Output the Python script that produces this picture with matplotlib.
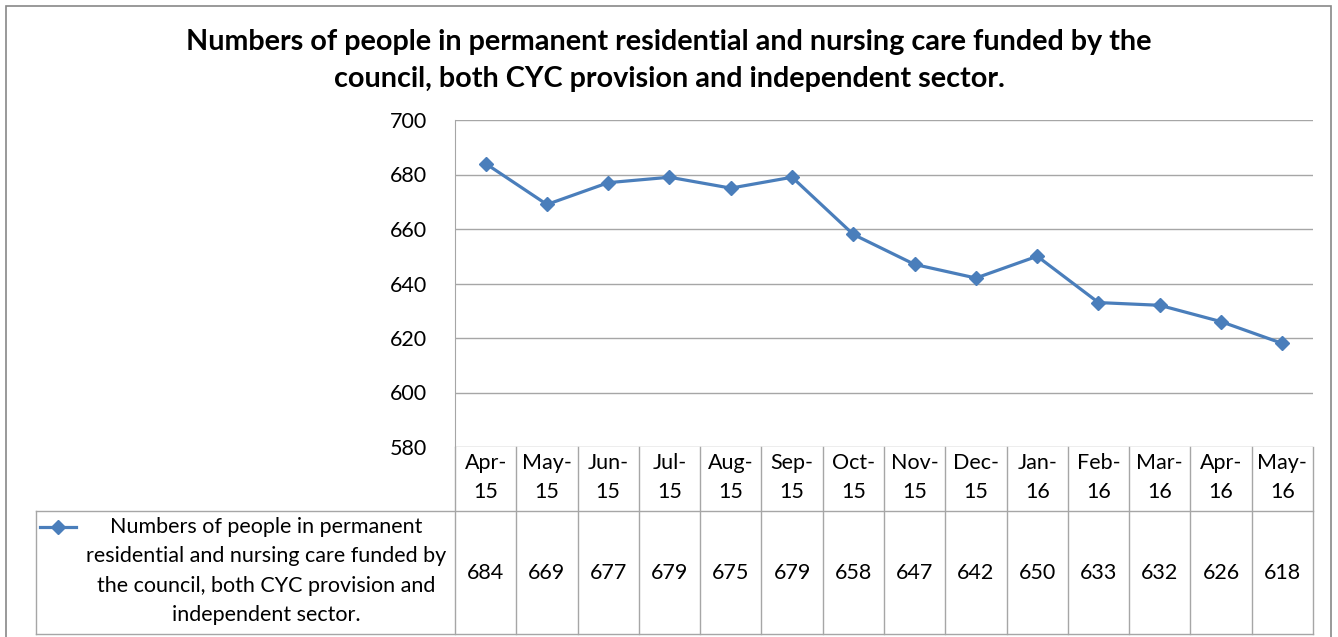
import numpy as np
import matplotlib.pyplot as plt
from matplotlib.transforms import blended_transform_factory
from matplotlib.lines import Line2D
from matplotlib.patches import Rectangle

plt.rcParams['font.family'] = ['Lato', 'DejaVu Sans']

# datos
months = ['Apr-\n15', 'May-\n15', 'Jun-\n15', 'Jul-\n15', 'Aug-\n15', 'Sep-\n15', 'Oct-\n15',
          'Nov-\n15', 'Dec-\n15', 'Jan-\n16', 'Feb-\n16', 'Mar-\n16', 'Apr-\n16', 'May-\n16']
people = [684, 669, 677, 679, 675, 679, 658, 647, 642, 650, 633, 632, 626, 618]
series_name = ('Numbers of people in permanent\nresidential and nursing care funded by\n'
               'the council, both CYC provision and\nindependent sector.')
title = ('Numbers of people in permanent residential and nursing care funded by the\n'
         'council, both CYC provision and independent sector.')

W, H = 1338, 637
fig = plt.figure(figsize=(W / 100, H / 100), dpi=100)

def fy(py):
    return 1 - py / H

# borde del gráfico
fig.patches.append(Rectangle((6 / W, fy(660)), (1331 - 6) / W, (660 - 6) / H,
                             transform=fig.transFigure, fill=False, ec='#888888', lw=1.2))

left, right, top, bottom = 455, 1313, 120, 447
ax = fig.add_axes([left / W, fy(bottom), (right - left) / W, (bottom - top) / H])

blue = '#4A7EBB'
x = np.arange(len(people))
ax.plot(x, people, color=blue, lw=2.3, marker='D', ms=7.5, mfc=blue, mec=blue)
ax.set_xlim(-0.5, len(people) - 0.5)
ax.set_ylim(580, 700)
ax.set_yticks(np.arange(580, 701, 20))
ax.tick_params(axis='y', length=0, labelsize=15.5, pad=20, colors='black')
ax.set_xticks([])
ax.grid(axis='y', color='#a6a6a6', lw=1)
ax.set_axisbelow(True)
for s in ['top', 'right', 'bottom']:
    ax.spines[s].set_visible(False)
ax.spines['left'].set_color('#a6a6a6')

fig.text(0.5, fy(60.5), title, ha='center', va='center', fontsize=20.7,
         fontweight='bold', linespacing=1.5)

# tabla de datos
tr = blended_transform_factory(ax.transData, fig.transFigure)
gc = '#a6a6a6'
row1, row2 = 511, 634
for b in np.arange(-0.5, len(people), 1.0):
    fig.lines.append(Line2D([b, b], [fy(bottom), fy(row2)], transform=tr, color=gc, lw=1))
fig.lines.append(Line2D([36 / W, right / W], [fy(row1), fy(row1)],
                        transform=fig.transFigure, color=gc, lw=1))
fig.lines.append(Line2D([36 / W, right / W], [fy(row2), fy(row2)],
                        transform=fig.transFigure, color=gc, lw=1))
fig.lines.append(Line2D([36 / W, 36 / W], [fy(row1), fy(row2)],
                        transform=fig.transFigure, color=gc, lw=1))

for i, (m, v) in enumerate(zip(months, people)):
    fig.text(i, fy(477.5), m, transform=tr, ha='center', va='center', fontsize=15.5, linespacing=1.57)
    fig.text(i, fy(573), str(v), transform=tr, ha='center', va='center', fontsize=15.5)

# leyenda
fig.lines.append(Line2D([40 / W, 58 / W, 76 / W], [fy(527)] * 3, transform=fig.transFigure,
                        color=blue, lw=2.3, marker='D', ms=7.5, markevery=[1],
                        mfc=blue, mec=blue))
fig.text(266 / W, fy(571), series_name, ha='center', va='center', fontsize=15.5, linespacing=1.57)

fig.savefig('out.png', dpi=100)
